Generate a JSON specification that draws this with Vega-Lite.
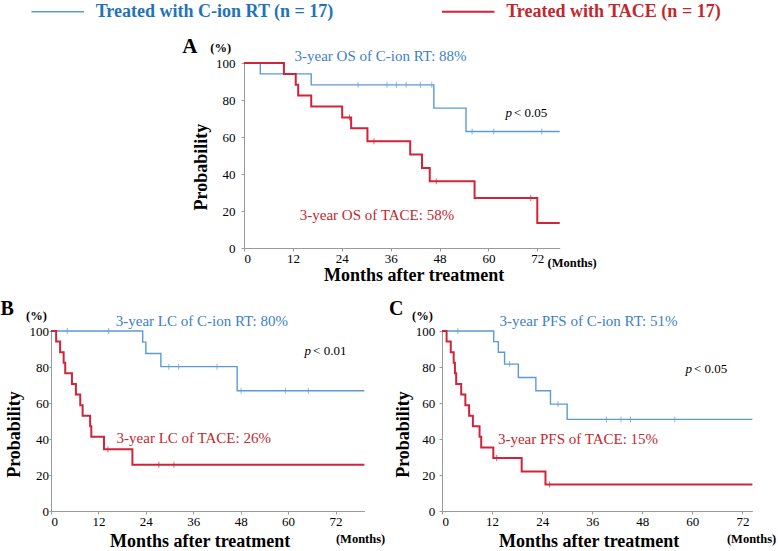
{
  "$schema": "https://vega.github.io/schema/vega-lite/v6.json",
  "padding": {"left": 0, "top": 0, "right": 0, "bottom": 0},
  "datasets": {
    "km": [
      {"panel": "A", "group": "C-ion RT", "month": 0, "pct": 100},
      {"panel": "A", "group": "C-ion RT", "month": 4, "pct": 94.1},
      {"panel": "A", "group": "C-ion RT", "month": 16.5, "pct": 88.2},
      {"panel": "A", "group": "C-ion RT", "month": 46.6, "pct": 75.6},
      {"panel": "A", "group": "C-ion RT", "month": 54.5, "pct": 63.0},
      {"panel": "A", "group": "C-ion RT", "month": 77.5, "pct": 63.0},
      {"panel": "A", "group": "TACE", "month": 0, "pct": 100},
      {"panel": "A", "group": "TACE", "month": 9.8, "pct": 94.1},
      {"panel": "A", "group": "TACE", "month": 12.7, "pct": 88.2},
      {"panel": "A", "group": "TACE", "month": 13.3, "pct": 82.4},
      {"panel": "A", "group": "TACE", "month": 16.5, "pct": 76.5},
      {"panel": "A", "group": "TACE", "month": 24.1, "pct": 70.6},
      {"panel": "A", "group": "TACE", "month": 26.3, "pct": 64.7},
      {"panel": "A", "group": "TACE", "month": 30.3, "pct": 57.7},
      {"panel": "A", "group": "TACE", "month": 40.8, "pct": 50.5},
      {"panel": "A", "group": "TACE", "month": 43.7, "pct": 43.3},
      {"panel": "A", "group": "TACE", "month": 45.6, "pct": 36.1},
      {"panel": "A", "group": "TACE", "month": 56.6, "pct": 27.0},
      {"panel": "A", "group": "TACE", "month": 72.0, "pct": 13.5},
      {"panel": "A", "group": "TACE", "month": 77.5, "pct": 13.5},
      {"panel": "B", "group": "C-ion RT", "month": 0, "pct": 100},
      {"panel": "B", "group": "C-ion RT", "month": 23.2, "pct": 93.8},
      {"panel": "B", "group": "C-ion RT", "month": 24.0, "pct": 87.5},
      {"panel": "B", "group": "C-ion RT", "month": 27.8, "pct": 80.2},
      {"panel": "B", "group": "C-ion RT", "month": 47.1, "pct": 66.8},
      {"panel": "B", "group": "C-ion RT", "month": 79.3, "pct": 66.8},
      {"panel": "B", "group": "TACE", "month": 0, "pct": 100},
      {"panel": "B", "group": "TACE", "month": 1.3, "pct": 94.1},
      {"panel": "B", "group": "TACE", "month": 2.3, "pct": 88.2},
      {"panel": "B", "group": "TACE", "month": 3.2, "pct": 82.4},
      {"panel": "B", "group": "TACE", "month": 3.6, "pct": 76.5},
      {"panel": "B", "group": "TACE", "month": 5.3, "pct": 70.6},
      {"panel": "B", "group": "TACE", "month": 6.3, "pct": 64.7},
      {"panel": "B", "group": "TACE", "month": 7.4, "pct": 58.8},
      {"panel": "B", "group": "TACE", "month": 8.0, "pct": 52.9},
      {"panel": "B", "group": "TACE", "month": 9.9, "pct": 47.1},
      {"panel": "B", "group": "TACE", "month": 10.2, "pct": 41.2},
      {"panel": "B", "group": "TACE", "month": 13.4, "pct": 34.3},
      {"panel": "B", "group": "TACE", "month": 20.6, "pct": 25.7},
      {"panel": "B", "group": "TACE", "month": 79.3, "pct": 25.7},
      {"panel": "C", "group": "C-ion RT", "month": 0, "pct": 100},
      {"panel": "C", "group": "C-ion RT", "month": 12.4, "pct": 94.1},
      {"panel": "C", "group": "C-ion RT", "month": 13.5, "pct": 88.2},
      {"panel": "C", "group": "C-ion RT", "month": 15.0, "pct": 81.6},
      {"panel": "C", "group": "C-ion RT", "month": 18.3, "pct": 74.2},
      {"panel": "C", "group": "C-ion RT", "month": 22.5, "pct": 66.8},
      {"panel": "C", "group": "C-ion RT", "month": 26.0, "pct": 59.4},
      {"panel": "C", "group": "C-ion RT", "month": 30.0, "pct": 50.9},
      {"panel": "C", "group": "C-ion RT", "month": 74.4, "pct": 50.9},
      {"panel": "C", "group": "TACE", "month": 0, "pct": 100},
      {"panel": "C", "group": "TACE", "month": 1.1, "pct": 94.1},
      {"panel": "C", "group": "TACE", "month": 2.1, "pct": 88.2},
      {"panel": "C", "group": "TACE", "month": 2.8, "pct": 82.4},
      {"panel": "C", "group": "TACE", "month": 3.1, "pct": 76.5},
      {"panel": "C", "group": "TACE", "month": 3.4, "pct": 70.6},
      {"panel": "C", "group": "TACE", "month": 4.6, "pct": 64.7},
      {"panel": "C", "group": "TACE", "month": 5.6, "pct": 58.8},
      {"panel": "C", "group": "TACE", "month": 6.5, "pct": 52.9},
      {"panel": "C", "group": "TACE", "month": 7.4, "pct": 47.1},
      {"panel": "C", "group": "TACE", "month": 9.0, "pct": 41.2},
      {"panel": "C", "group": "TACE", "month": 9.4, "pct": 35.3},
      {"panel": "C", "group": "TACE", "month": 12.3, "pct": 29.4},
      {"panel": "C", "group": "TACE", "month": 19.1, "pct": 22.0},
      {"panel": "C", "group": "TACE", "month": 24.8, "pct": 14.7},
      {"panel": "C", "group": "TACE", "month": 74.4, "pct": 14.7}
    ],
    "cens": [
      {"panel": "A", "group": "C-ion RT", "month": 28.0, "pct": 88.2},
      {"panel": "A", "group": "C-ion RT", "month": 35.1, "pct": 88.2},
      {"panel": "A", "group": "C-ion RT", "month": 37.4, "pct": 88.2},
      {"panel": "A", "group": "C-ion RT", "month": 39.8, "pct": 88.2},
      {"panel": "A", "group": "C-ion RT", "month": 43.3, "pct": 88.2},
      {"panel": "A", "group": "C-ion RT", "month": 46.1, "pct": 88.2},
      {"panel": "A", "group": "C-ion RT", "month": 56.0, "pct": 63.0},
      {"panel": "A", "group": "C-ion RT", "month": 61.3, "pct": 63.0},
      {"panel": "A", "group": "C-ion RT", "month": 73.1, "pct": 63.0},
      {"panel": "A", "group": "TACE", "month": 25.9, "pct": 70.6},
      {"panel": "A", "group": "TACE", "month": 31.9, "pct": 57.7},
      {"panel": "A", "group": "TACE", "month": 47.2, "pct": 36.1},
      {"panel": "A", "group": "TACE", "month": 70.4, "pct": 27.0},
      {"panel": "B", "group": "C-ion RT", "month": 4.1, "pct": 100},
      {"panel": "B", "group": "C-ion RT", "month": 14.6, "pct": 100},
      {"panel": "B", "group": "C-ion RT", "month": 29.8, "pct": 80.2},
      {"panel": "B", "group": "C-ion RT", "month": 32.3, "pct": 80.2},
      {"panel": "B", "group": "C-ion RT", "month": 42.0, "pct": 80.2},
      {"panel": "B", "group": "C-ion RT", "month": 48.1, "pct": 66.8},
      {"panel": "B", "group": "C-ion RT", "month": 59.3, "pct": 66.8},
      {"panel": "B", "group": "C-ion RT", "month": 65.1, "pct": 66.8},
      {"panel": "B", "group": "TACE", "month": 14.4, "pct": 34.3},
      {"panel": "B", "group": "TACE", "month": 27.3, "pct": 25.7},
      {"panel": "B", "group": "TACE", "month": 31.1, "pct": 25.7},
      {"panel": "C", "group": "C-ion RT", "month": 3.8, "pct": 100},
      {"panel": "C", "group": "C-ion RT", "month": 16.2, "pct": 81.6},
      {"panel": "C", "group": "C-ion RT", "month": 27.8, "pct": 59.4},
      {"panel": "C", "group": "C-ion RT", "month": 39.4, "pct": 50.9},
      {"panel": "C", "group": "C-ion RT", "month": 42.9, "pct": 50.9},
      {"panel": "C", "group": "C-ion RT", "month": 45.2, "pct": 50.9},
      {"panel": "C", "group": "C-ion RT", "month": 55.8, "pct": 50.9},
      {"panel": "C", "group": "TACE", "month": 13.1, "pct": 29.4},
      {"panel": "C", "group": "TACE", "month": 25.8, "pct": 14.7}
    ],
    "ann": [
      {"panel": "A", "kind": "c-ion", "text": "3-year OS of C-ion RT: 88%", "month": 12.4, "pct": 103.8},
      {"panel": "A", "kind": "tace", "text": "3-year OS of TACE: 58%", "month": 13.7, "pct": 18},
      {"panel": "A", "kind": "p", "text": "< 0.05", "month": 65.8, "pct": 73},
      {"panel": "A", "kind": "letter", "text": "A", "month": -13.3, "pct": 108.6},
      {"panel": "A", "kind": "unit", "text": "(%)", "month": -5.7, "pct": 108.1},
      {"panel": "A", "kind": "months", "text": "(Months)", "month": 74.5, "pct": -8},
      {"panel": "B", "kind": "c-ion", "text": "3-year LC of C-ion RT: 80%", "month": 16.4, "pct": 105.5},
      {"panel": "B", "kind": "tace", "text": "3-year LC of TACE: 26%", "month": 16.6, "pct": 40.5},
      {"panel": "B", "kind": "p", "text": "< 0.01", "month": 65.8, "pct": 89},
      {"panel": "B", "kind": "letter", "text": "B", "month": -11.1, "pct": 112.2},
      {"panel": "B", "kind": "unit", "text": "(%)", "month": -3.7, "pct": 108.3},
      {"panel": "B", "kind": "months", "text": "(Months)", "month": 72.1, "pct": -15.6},
      {"panel": "C", "kind": "c-ion", "text": "3-year PFS of C-ion RT: 51%", "month": 13.8, "pct": 105.5},
      {"panel": "C", "kind": "tace", "text": "3-year PFS of TACE: 15%", "month": 13.4, "pct": 40},
      {"panel": "C", "kind": "p", "text": "< 0.05", "month": 59.9, "pct": 79},
      {"panel": "C", "kind": "letter", "text": "C", "month": -11.0, "pct": 112.2},
      {"panel": "C", "kind": "unit", "text": "(%)", "month": -4.7, "pct": 108.3},
      {"panel": "C", "kind": "months", "text": "(Months)", "month": 68.3, "pct": -15.6}
    ]
  },
  "vconcat": [
    {
      "spacing": 0,
      "hconcat": [
        {"width": 130.7, "height": 10, "data": {"values": []}, "mark": {"type": "point", "opacity": 0}, "encoding": {}},
        {
          "width": 315.7, "height": 185,
          "encoding": {
            "x": {"field": "month", "type": "quantitative", "scale": {"domain": [0, 77.5], "nice": false}, "axis": {"values": [0, 12, 24, 36, 48, 60, 72], "title": "Months after treatment", "titleX": 169.7, "titlePadding": 1, "labelPadding": 1}},
            "y": {"field": "pct", "type": "quantitative", "scale": {"domain": [0, 100], "nice": false}, "axis": {"values": [0, 20, 40, 60, 80, 100], "title": "Probability", "titleY": 103.6, "titlePadding": 5, "labelPadding": 6}}
          },
          "layer": [
            {"data": {"name": "km"}, "transform": [{"filter": "datum.panel == 'A'"}], "mark": {"type": "line", "interpolate": "step-after"},
             "encoding": {
               "color": {"field": "group", "type": "nominal", "scale": {"domain": ["C-ion RT", "TACE"], "range": ["#5b9bd5", "#d0243a"]},
                 "legend": {"orient": "none", "legendX": -4.8, "legendY": -63, "direction": "horizontal", "title": null, "symbolType": "M-2.5,0H2.5", "symbolSize": 441, "symbolStrokeWidth": 3, "labelFont": "Liberation Serif", "labelFontSize": 18, "labelFontWeight": "bold", "labelOffset": 26.5, "columnPadding": 103.5, "labelLimit": 400,
                   "labelExpr": "datum.value == 'TACE' ? 'Treated with TACE (n = 17)' : 'Treated with C-ion RT (n = 17)'",
                   "encode": {"labels": {"update": {"fill": {"signal": "datum.value == 'TACE' ? '#c1272d' : '#1f73b8'"}}}, "symbols": {"update": {"stroke": {"signal": "datum.value == 'TACE' ? '#c8252c' : '#1e78c2'"}}}}}},
               "strokeWidth": {"field": "group", "type": "ordinal", "scale": {"domain": ["C-ion RT", "TACE"], "range": [1.4, 2]}, "legend": null}
             }},
            {"data": {"name": "cens"}, "transform": [{"filter": "datum.panel == 'A'"}], "mark": {"type": "tick", "orient": "vertical", "size": 6, "thickness": 1},
             "encoding": {"color": {"field": "group", "type": "nominal", "legend": null}}},
            {"data": {"name": "ann"}, "transform": [{"filter": "datum.panel == 'A' && datum.kind == 'c-ion'"}], "mark": {"type": "text", "align": "left", "baseline": "middle", "fontSize": 15, "color": "#3c7fc6", "font": "Liberation Serif"}, "encoding": {"text": {"field": "text"}}},
            {"data": {"name": "ann"}, "transform": [{"filter": "datum.panel == 'A' && datum.kind == 'tace'"}], "mark": {"type": "text", "align": "left", "baseline": "middle", "fontSize": 15, "color": "#c0282f", "font": "Liberation Serif"}, "encoding": {"text": {"field": "text"}}},
            {"data": {"name": "ann"}, "transform": [{"filter": "datum.panel == 'A' && datum.kind == 'p'"}], "mark": {"type": "text", "align": "right", "baseline": "middle", "fontSize": 13, "fontStyle": "italic", "color": "#000", "font": "Liberation Serif", "text": "p"}},
            {"data": {"name": "ann"}, "transform": [{"filter": "datum.panel == 'A' && datum.kind == 'p'"}], "mark": {"type": "text", "align": "left", "baseline": "middle", "fontSize": 13, "dx": 2, "color": "#000", "font": "Liberation Serif"}, "encoding": {"text": {"field": "text"}}},
            {"data": {"name": "ann"}, "transform": [{"filter": "datum.panel == 'A' && datum.kind == 'letter'"}], "mark": {"type": "text", "align": "center", "baseline": "middle", "fontSize": 21, "fontWeight": "bold", "color": "#000", "font": "Liberation Serif"}, "encoding": {"text": {"field": "text"}}},
            {"data": {"name": "ann"}, "transform": [{"filter": "datum.panel == 'A' && datum.kind == 'unit'"}], "mark": {"type": "text", "align": "center", "baseline": "middle", "fontSize": 12.5, "fontWeight": "bold", "color": "#000", "font": "Liberation Serif"}, "encoding": {"text": {"field": "text"}}},
            {"data": {"name": "ann"}, "transform": [{"filter": "datum.panel == 'A' && datum.kind == 'months'"}], "mark": {"type": "text", "align": "left", "baseline": "middle", "fontSize": 12.5, "fontWeight": "bold", "color": "#000", "font": "Liberation Serif"}, "encoding": {"text": {"field": "text"}}}
          ]
        }
      ]
    },
    {
      "spacing": 2,
      "hconcat": [
        {
          "width": 313.4, "height": 180,
          "encoding": {
            "x": {"field": "month", "type": "quantitative", "scale": {"domain": [0, 79.3], "nice": false}, "axis": {"values": [0, 12, 24, 36, 48, 60, 72], "title": "Months after treatment", "titleX": 148.7, "titlePadding": 4, "labelPadding": 1}},
            "y": {"field": "pct", "type": "quantitative", "scale": {"domain": [0, 100], "nice": false}, "axis": {"values": [0, 20, 40, 60, 80, 100], "title": "Probability", "titleY": 103, "titlePadding": 6, "tickSize": 2, "labelPadding": 0.5}}
          },
          "layer": [
            {"data": {"name": "km"}, "transform": [{"filter": "datum.panel == 'B'"}], "mark": {"type": "line", "interpolate": "step-after"},
             "encoding": {
               "color": {"field": "group", "type": "nominal", "legend": null},
               "strokeWidth": {"field": "group", "type": "ordinal", "scale": {"domain": ["C-ion RT", "TACE"], "range": [1.4, 2]}, "legend": null}
             }},
            {"data": {"name": "cens"}, "transform": [{"filter": "datum.panel == 'B'"}], "mark": {"type": "tick", "orient": "vertical", "size": 6, "thickness": 1},
             "encoding": {"color": {"field": "group", "type": "nominal", "legend": null}}},
            {"data": {"name": "ann"}, "transform": [{"filter": "datum.panel == 'B' && datum.kind == 'c-ion'"}], "mark": {"type": "text", "align": "left", "baseline": "middle", "fontSize": 15, "color": "#3c7fc6", "font": "Liberation Serif"}, "encoding": {"text": {"field": "text"}}},
            {"data": {"name": "ann"}, "transform": [{"filter": "datum.panel == 'B' && datum.kind == 'tace'"}], "mark": {"type": "text", "align": "left", "baseline": "middle", "fontSize": 15, "color": "#c0282f", "font": "Liberation Serif"}, "encoding": {"text": {"field": "text"}}},
            {"data": {"name": "ann"}, "transform": [{"filter": "datum.panel == 'B' && datum.kind == 'p'"}], "mark": {"type": "text", "align": "right", "baseline": "middle", "fontSize": 13, "fontStyle": "italic", "color": "#000", "font": "Liberation Serif", "text": "p"}},
            {"data": {"name": "ann"}, "transform": [{"filter": "datum.panel == 'B' && datum.kind == 'p'"}], "mark": {"type": "text", "align": "left", "baseline": "middle", "fontSize": 13, "dx": 2, "color": "#000", "font": "Liberation Serif"}, "encoding": {"text": {"field": "text"}}},
            {"data": {"name": "ann"}, "transform": [{"filter": "datum.panel == 'B' && datum.kind == 'letter'"}], "mark": {"type": "text", "align": "center", "baseline": "middle", "fontSize": 20, "fontWeight": "bold", "color": "#000", "font": "Liberation Serif"}, "encoding": {"text": {"field": "text"}}},
            {"data": {"name": "ann"}, "transform": [{"filter": "datum.panel == 'B' && datum.kind == 'unit'"}], "mark": {"type": "text", "align": "center", "baseline": "middle", "fontSize": 12.5, "fontWeight": "bold", "color": "#000", "font": "Liberation Serif"}, "encoding": {"text": {"field": "text"}}},
            {"data": {"name": "ann"}, "transform": [{"filter": "datum.panel == 'B' && datum.kind == 'months'"}], "mark": {"type": "text", "align": "left", "baseline": "middle", "fontSize": 12.5, "fontWeight": "bold", "color": "#000", "font": "Liberation Serif"}, "encoding": {"text": {"field": "text"}}}
          ]
        },
        {
          "width": 310.4, "height": 180,
          "encoding": {
            "x": {"field": "month", "type": "quantitative", "scale": {"domain": [0, 74.4], "nice": false}, "axis": {"values": [0, 12, 24, 36, 48, 60, 72], "title": "Months after treatment", "titleX": 146.7, "titlePadding": 4, "labelPadding": 1}},
            "y": {"field": "pct", "type": "quantitative", "scale": {"domain": [0, 100], "nice": false}, "axis": {"values": [0, 20, 40, 60, 80, 100], "title": "Probability", "titleY": 103, "titlePadding": 3, "labelPadding": 4.3}}
          },
          "layer": [
            {"data": {"name": "km"}, "transform": [{"filter": "datum.panel == 'C'"}], "mark": {"type": "line", "interpolate": "step-after"},
             "encoding": {
               "color": {"field": "group", "type": "nominal", "legend": null},
               "strokeWidth": {"field": "group", "type": "ordinal", "scale": {"domain": ["C-ion RT", "TACE"], "range": [1.4, 2]}, "legend": null}
             }},
            {"data": {"name": "cens"}, "transform": [{"filter": "datum.panel == 'C'"}], "mark": {"type": "tick", "orient": "vertical", "size": 6, "thickness": 1},
             "encoding": {"color": {"field": "group", "type": "nominal", "legend": null}}},
            {"data": {"name": "ann"}, "transform": [{"filter": "datum.panel == 'C' && datum.kind == 'c-ion'"}], "mark": {"type": "text", "align": "left", "baseline": "middle", "fontSize": 15, "color": "#3c7fc6", "font": "Liberation Serif"}, "encoding": {"text": {"field": "text"}}},
            {"data": {"name": "ann"}, "transform": [{"filter": "datum.panel == 'C' && datum.kind == 'tace'"}], "mark": {"type": "text", "align": "left", "baseline": "middle", "fontSize": 15, "color": "#c0282f", "font": "Liberation Serif"}, "encoding": {"text": {"field": "text"}}},
            {"data": {"name": "ann"}, "transform": [{"filter": "datum.panel == 'C' && datum.kind == 'p'"}], "mark": {"type": "text", "align": "right", "baseline": "middle", "fontSize": 13, "fontStyle": "italic", "color": "#000", "font": "Liberation Serif", "text": "p"}},
            {"data": {"name": "ann"}, "transform": [{"filter": "datum.panel == 'C' && datum.kind == 'p'"}], "mark": {"type": "text", "align": "left", "baseline": "middle", "fontSize": 13, "dx": 2, "color": "#000", "font": "Liberation Serif"}, "encoding": {"text": {"field": "text"}}},
            {"data": {"name": "ann"}, "transform": [{"filter": "datum.panel == 'C' && datum.kind == 'letter'"}], "mark": {"type": "text", "align": "center", "baseline": "middle", "fontSize": 20, "fontWeight": "bold", "color": "#000", "font": "Liberation Serif"}, "encoding": {"text": {"field": "text"}}},
            {"data": {"name": "ann"}, "transform": [{"filter": "datum.panel == 'C' && datum.kind == 'unit'"}], "mark": {"type": "text", "align": "center", "baseline": "middle", "fontSize": 12.5, "fontWeight": "bold", "color": "#000", "font": "Liberation Serif"}, "encoding": {"text": {"field": "text"}}},
            {"data": {"name": "ann"}, "transform": [{"filter": "datum.panel == 'C' && datum.kind == 'months'"}], "mark": {"type": "text", "align": "left", "baseline": "middle", "fontSize": 12.5, "fontWeight": "bold", "color": "#000", "font": "Liberation Serif"}, "encoding": {"text": {"field": "text"}}}
          ]
        }
      ]
    }
  ],
  "spacing": 15,
  "config": {
    "view": {"stroke": null},
    "axis": {"domainColor": "#9a9a9a", "tickColor": "#9a9a9a", "tickSize": 3, "labelFont": "Liberation Serif", "labelFontSize": 13, "labelColor": "#000", "titleFont": "Liberation Serif", "titleFontSize": 18, "titleFontWeight": "bold", "titleColor": "#000", "grid": false, "labelPadding": 4}
  }
}
